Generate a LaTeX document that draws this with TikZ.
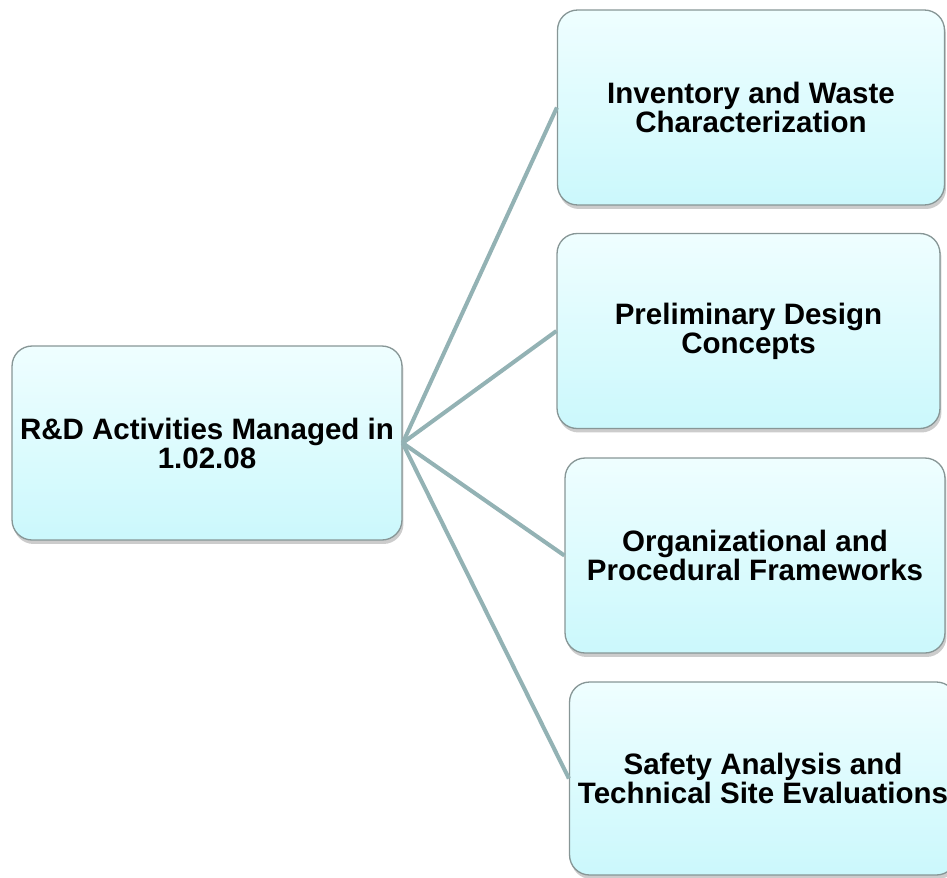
\documentclass[tikz,border=0pt]{standalone}
\usepackage{fontspec}
\setmainfont{Liberation Sans}
\usetikzlibrary{shadows}

\definecolor{boxtop}{HTML}{EFFEFF}
\definecolor{boxbottom}{HTML}{CBF8FC}
\definecolor{boxgray}{HTML}{879696}
\definecolor{linkteal}{HTML}{93B2B4}

\begin{document}
\begin{tikzpicture}[x=0.02cm, y=-0.02cm,
	box/.style={draw=boxgray, line width=0.75pt, rounded corners=0.4cm,
		top color=boxtop, bottom color=boxbottom,
		align=center, inner sep=0pt,
		font=\bfseries\fontsize{16.8}{16.5}\selectfont,
		minimum width=7.74cm, minimum height=3.9cm,
		drop shadow={shadow xshift=0.03cm, shadow yshift=-0.08cm, opacity=0.4}},
	link/.style={draw=linkteal, line width=2.3pt}]

	% page frame
	\useasboundingbox (0,0) rectangle (947,877);
	\clip (0,0) rectangle (947,877);

	% root
	\node[box, minimum width=7.8cm, minimum height=3.88cm] (root) at (207,443)
		{R\&D Activities Managed in\\1.02.08};

	% branches
	\node[box] (inv) at (751,107.5) {Inventory and Waste\\Characterization};
	\node[box, minimum width=7.66cm] (pre) at (748.5,331) {Preliminary Design\\Concepts};
	\node[box, minimum width=7.6cm] (org) at (755,555.5) {Organizational and\\Procedural Frameworks};
	\node[box, minimum height=3.86cm] (saf) at (763,778.5) {Safety Analysis and\\Technical Site Evaluations};

	% connectors
	\draw[link] (root.east) -- (inv.west);
	\draw[link] (root.east) -- (pre.west);
	\draw[link] (root.east) -- (org.west);
	\draw[link] (root.east) -- (saf.west);

\end{tikzpicture}
\end{document}
